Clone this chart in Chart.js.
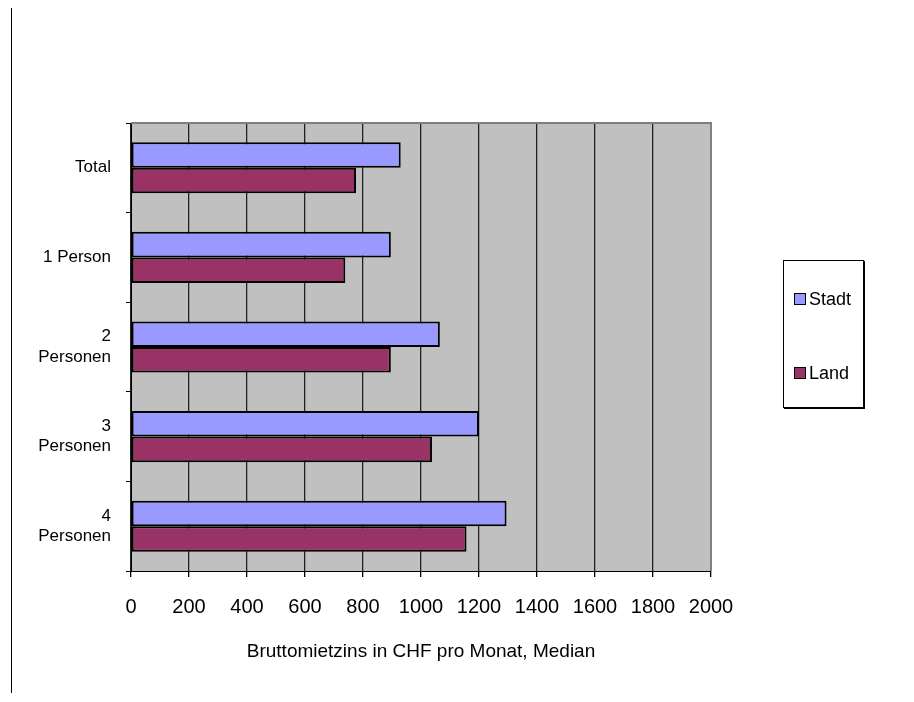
<!DOCTYPE html>
<html>
<head>
<meta charset="utf-8">
<script src="https://cdn.jsdelivr.net/npm/chart.js@4/dist/chart.umd.min.js"></script>
<style>
  html, body { margin: 0; padding: 0; background: #fff; }
  #wrap { position: relative; width: 914px; height: 702px; }
  #c { position: absolute; left: 0; top: 0; }
  #pageline { position: absolute; left: 11px; top: 8px; width: 1px; height: 685px; background: #000; }
  #legend { position: absolute; left: 783px; top: 260px; width: 79px; height: 146px;
            border: 1px solid #000; box-shadow: 1px 1px 0 #000; background: #fff;
            font-family: "Liberation Sans", Arial, sans-serif; font-size: 18px; color: #000; }
  .li { position: absolute; left: 10px; height: 20px; line-height: 20px; white-space: nowrap; }
  .sw { display: inline-block; width: 10px; height: 10px; border: 1px solid #000; margin-right: 3px; vertical-align: 0px; }
</style>
</head>
<body>
<div id="wrap">
  <canvas id="c" width="914" height="702"></canvas>
  <div id="pageline"></div>
  <div id="legend"></div>
</div>
<script>
const categories = ['Total', '1 Person', ['2', 'Personen'], ['3', 'Personen'], ['4', 'Personen']];
const seriesNames = ['Stadt', 'Land'];
const stadtValues = [930, 896, 1065, 1200, 1295];
const landValues = [776, 739, 896, 1038, 1157];
const xTickMin = 0, xTickMax = 2000, xTickStep = 200;
const xAxisTitle = 'Bruttomietzins in CHF pro Monat, Median';
const seriesColors = ['#9999FF', '#993366'];

const FONT = '"Liberation Sans", Arial, sans-serif';

const plotBg = {
  id: 'plotBg',
  beforeDraw(chart) {
    const a = chart.chartArea, ctx = chart.ctx;
    ctx.save();
    ctx.fillStyle = '#C0C0C0';
    ctx.fillRect(a.left, a.top, a.right - a.left, a.bottom - a.top);
    ctx.restore();
  },
  afterDatasetsDraw(chart) {
    const a = chart.chartArea, ctx = chart.ctx;
    ctx.save();
    ctx.strokeStyle = '#808080';
    ctx.lineWidth = 2;
    ctx.beginPath();
    ctx.moveTo(a.left, a.top);
    ctx.lineTo(a.right, a.top);
    ctx.lineTo(a.right, a.bottom);
    ctx.stroke();
    ctx.restore();
  }
};

const chart = new Chart(document.getElementById('c'), {
  type: 'bar',
  data: {
    labels: categories,
    datasets: [
      { label: seriesNames[0], data: stadtValues, backgroundColor: seriesColors[0],
        borderColor: '#000', borderWidth: 2, borderSkipped: false },
      { label: seriesNames[1], data: landValues, backgroundColor: seriesColors[1],
        borderColor: '#000', borderWidth: 2, borderSkipped: false }
    ]
  },
  options: {
    indexAxis: 'y',
    responsive: false,
    animation: false,
    devicePixelRatio: 1,
    layout: { padding: { left: 0, right: 203, top: 123, bottom: 31 } },
    datasets: { bar: { barPercentage: 1, categoryPercentage: 0.57 } },
    plugins: { legend: { display: false }, tooltip: { enabled: false } },
    scales: {
      x: {
        min: xTickMin, max: xTickMax,
        ticks: { stepSize: xTickStep, color: '#000', font: { family: FONT, size: 20 }, padding: 18, maxRotation: 0,
                 callback: v => String(v) },
        grid: { color: '#222', lineWidth: 1.3, drawTicks: true, tickLength: 6, tickColor: '#000' },
        border: { display: true, color: '#000', width: 1 },
        title: { display: true, text: xAxisTitle, color: '#000', font: { family: FONT, size: 19 }, padding: { top: 10, bottom: 8 } },
        afterFit(s) { s.height = 100; }
      },
      y: {
        ticks: { color: '#000', font: { family: FONT, size: 17 }, padding: 15 },
        grid: { drawOnChartArea: false, drawTicks: true, tickLength: 5, tickColor: '#000', offset: true },
        border: { display: true, color: '#000', width: 1 },
        afterFit(s) { s.width = 131; }
      }
    }
  },
  plugins: [plotBg]
});

const leg = document.getElementById('legend');
const tops = [28, 102];
chart.data.datasets.forEach((ds, i) => {
  const d = document.createElement('div');
  d.className = 'li';
  d.style.top = tops[i] + 'px';
  d.innerHTML = '<span class="sw" style="background:' + ds.backgroundColor + '"></span>' + ds.label;
  leg.appendChild(d);
});
</script>
</body>
</html>
